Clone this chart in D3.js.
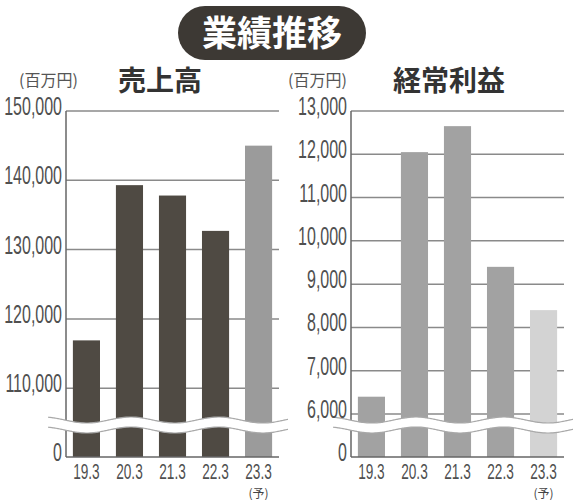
<!DOCTYPE html>
<meta charset="utf-8">
<style>
body { margin: 0; background: #fff; }
svg { display: block; }
.tick-label { font-family: "Liberation Sans", Arial, sans-serif; fill: #505050; }
.jp { font-family: "Noto Sans CJK JP", sans-serif; }
</style>
<body>
<script src="https://d3js.org/d3.v7.min.js"></script>
<script>

// data (百万円)
var years = ["19.3", "20.3", "21.3", "22.3", "23.3"];
var forecast = [false, false, false, false, true];
var sales = [116900, 139300, 137800, 132700, 145000];
var profit = [6400, 12050, 12650, 9400, 8400];
var salesTicks = [110000, 120000, 130000, 140000, 150000];
var profitTicks = [6000, 7000, 8000, 9000, 10000, 11000, 12000, 13000];

var svg = d3.select("body").append("svg")
    .attr("width", 575)
    .attr("height", 500);

// title pill
svg.append("rect")
    .attr("x", 178).attr("y", 6)
    .attr("width", 188).attr("height", 54)
    .attr("rx", 27)
    .attr("fill", "#3d3934");
svg.append("text")
    .attr("class", "jp")
    .attr("x", 272).attr("y", 46)
    .attr("text-anchor", "middle")
    .attr("font-size", 35).attr("font-weight", 700)
    .attr("fill", "#fff")
    .text("業績推移");

var baseY = 457, breakY = 427, topY = 111;

function panel(opt) {
  var g = svg.append("g");

  var y = d3.scaleLinear()
      .domain([0, opt.breakVal, opt.max])
      .range([baseY, breakY, topY]);

  var x = d3.scaleBand()
      .domain(years)
      .range([opt.x0, opt.x1])
      .paddingInner(0.37)
      .paddingOuter(0.16);

  // unit + subtitle
  g.append("text").attr("class", "jp")
      .attr("x", opt.unitX).attr("y", 86)
      .attr("font-size", 16).attr("fill", "#555")
      .text("(百万円)");
  g.append("text").attr("class", "jp")
      .attr("x", opt.titleX).attr("y", 91)
      .attr("font-size", 28).attr("font-weight", 700).attr("fill", "#333")
      .text(opt.title);

  // gridlines
  g.selectAll(".grid").data(opt.ticks).enter().append("line")
      .attr("x1", opt.x0).attr("x2", opt.x1)
      .attr("y1", function(d) { return y(d); })
      .attr("y2", function(d) { return y(d); })
      .attr("stroke", "#8a8a8a").attr("stroke-width", 1.5);

  // bars
  g.selectAll(".bar").data(opt.values).enter().append("rect")
      .attr("x", function(d, i) { return x(years[i]); })
      .attr("width", x.bandwidth())
      .attr("y", function(d) { return y(d); })
      .attr("height", function(d) { return y(0) - y(d); })
      .attr("fill", function(d, i) { return forecast[i] ? opt.fcColor : opt.color; });

  // axis lines
  g.append("line")
      .attr("x1", opt.x0).attr("x2", opt.x0)
      .attr("y1", topY).attr("y2", baseY)
      .attr("stroke", "#666").attr("stroke-width", 1.5);
  g.append("line")
      .attr("x1", opt.x0).attr("x2", opt.x1)
      .attr("y1", baseY).attr("y2", baseY)
      .attr("stroke", "#666").attr("stroke-width", 1.5);

  // break wave
  var wx0 = opt.x0 - 18, wx1 = opt.x1 + 9;
  var pts = d3.range(wx0, wx1 + 1, 2);
  var wave = function(off) {
    return function(px) { return breakY - 2 + off + 3 * Math.sin((px - wx0) / 88 * 2 * Math.PI - 1.2); };
  };
  var top = wave(-5), bot = wave(5);
  var area = d3.area()
      .x(function(d) { return d; })
      .y0(function(d) { return top(d); })
      .y1(function(d) { return bot(d); })
      .curve(d3.curveBasis);
  g.append("path").datum(pts).attr("d", area).attr("fill", "#fff");
  [top, bot].forEach(function(f) {
    g.append("path").datum(pts)
        .attr("d", d3.line().x(function(d) { return d; }).y(f).curve(d3.curveBasis))
        .attr("fill", "none").attr("stroke", "#a8a8a8").attr("stroke-width", 1.2);
  });

  // y tick labels (condensed)
  var allTicks = [0].concat(opt.ticks);
  g.selectAll(".yl").data(allTicks).enter().append("text")
      .attr("class", "tick-label")
      .attr("transform", function(d) { return "translate(" + (opt.x0 - 4) + "," + (y(d) + 4) + ") scale(0.64,1)"; })
      .attr("text-anchor", "end")
      .attr("font-size", 25)
      .text(function(d) { return d3.format(",")(d); });

  // x labels
  g.selectAll(".xl").data(years).enter().append("text")
      .attr("class", "tick-label")
      .attr("transform", function(d) { return "translate(" + (x(d) + x.bandwidth() / 2) + ",479) scale(0.62,1)"; })
      .attr("text-anchor", "middle")
      .attr("font-size", 22)
      .text(function(d) { return d; });
  g.selectAll(".fc").data(years.filter(function(d, i) { return forecast[i]; })).enter().append("text")
      .attr("class", "jp")
      .attr("x", function(d) { return x(d) + x.bandwidth() / 2; })
      .attr("y", 498)
      .attr("text-anchor", "middle")
      .attr("font-size", 12).attr("fill", "#444")
      .text("(予)");
}

panel({
  x0: 66, x1: 279, values: sales, ticks: salesTicks,
  breakVal: 104400, max: 150000,
  color: "#4f4a43", fcColor: "#9b9b9b",
  unitX: 19, titleX: 118, title: "売上高"
});

panel({
  x0: 351, x1: 564, values: profit, ticks: profitTicks,
  breakVal: 5700, max: 13000,
  color: "#a2a2a2", fcColor: "#d3d3d3",
  unitX: 288, titleX: 393, title: "経常利益"
});

</script>
</body>
